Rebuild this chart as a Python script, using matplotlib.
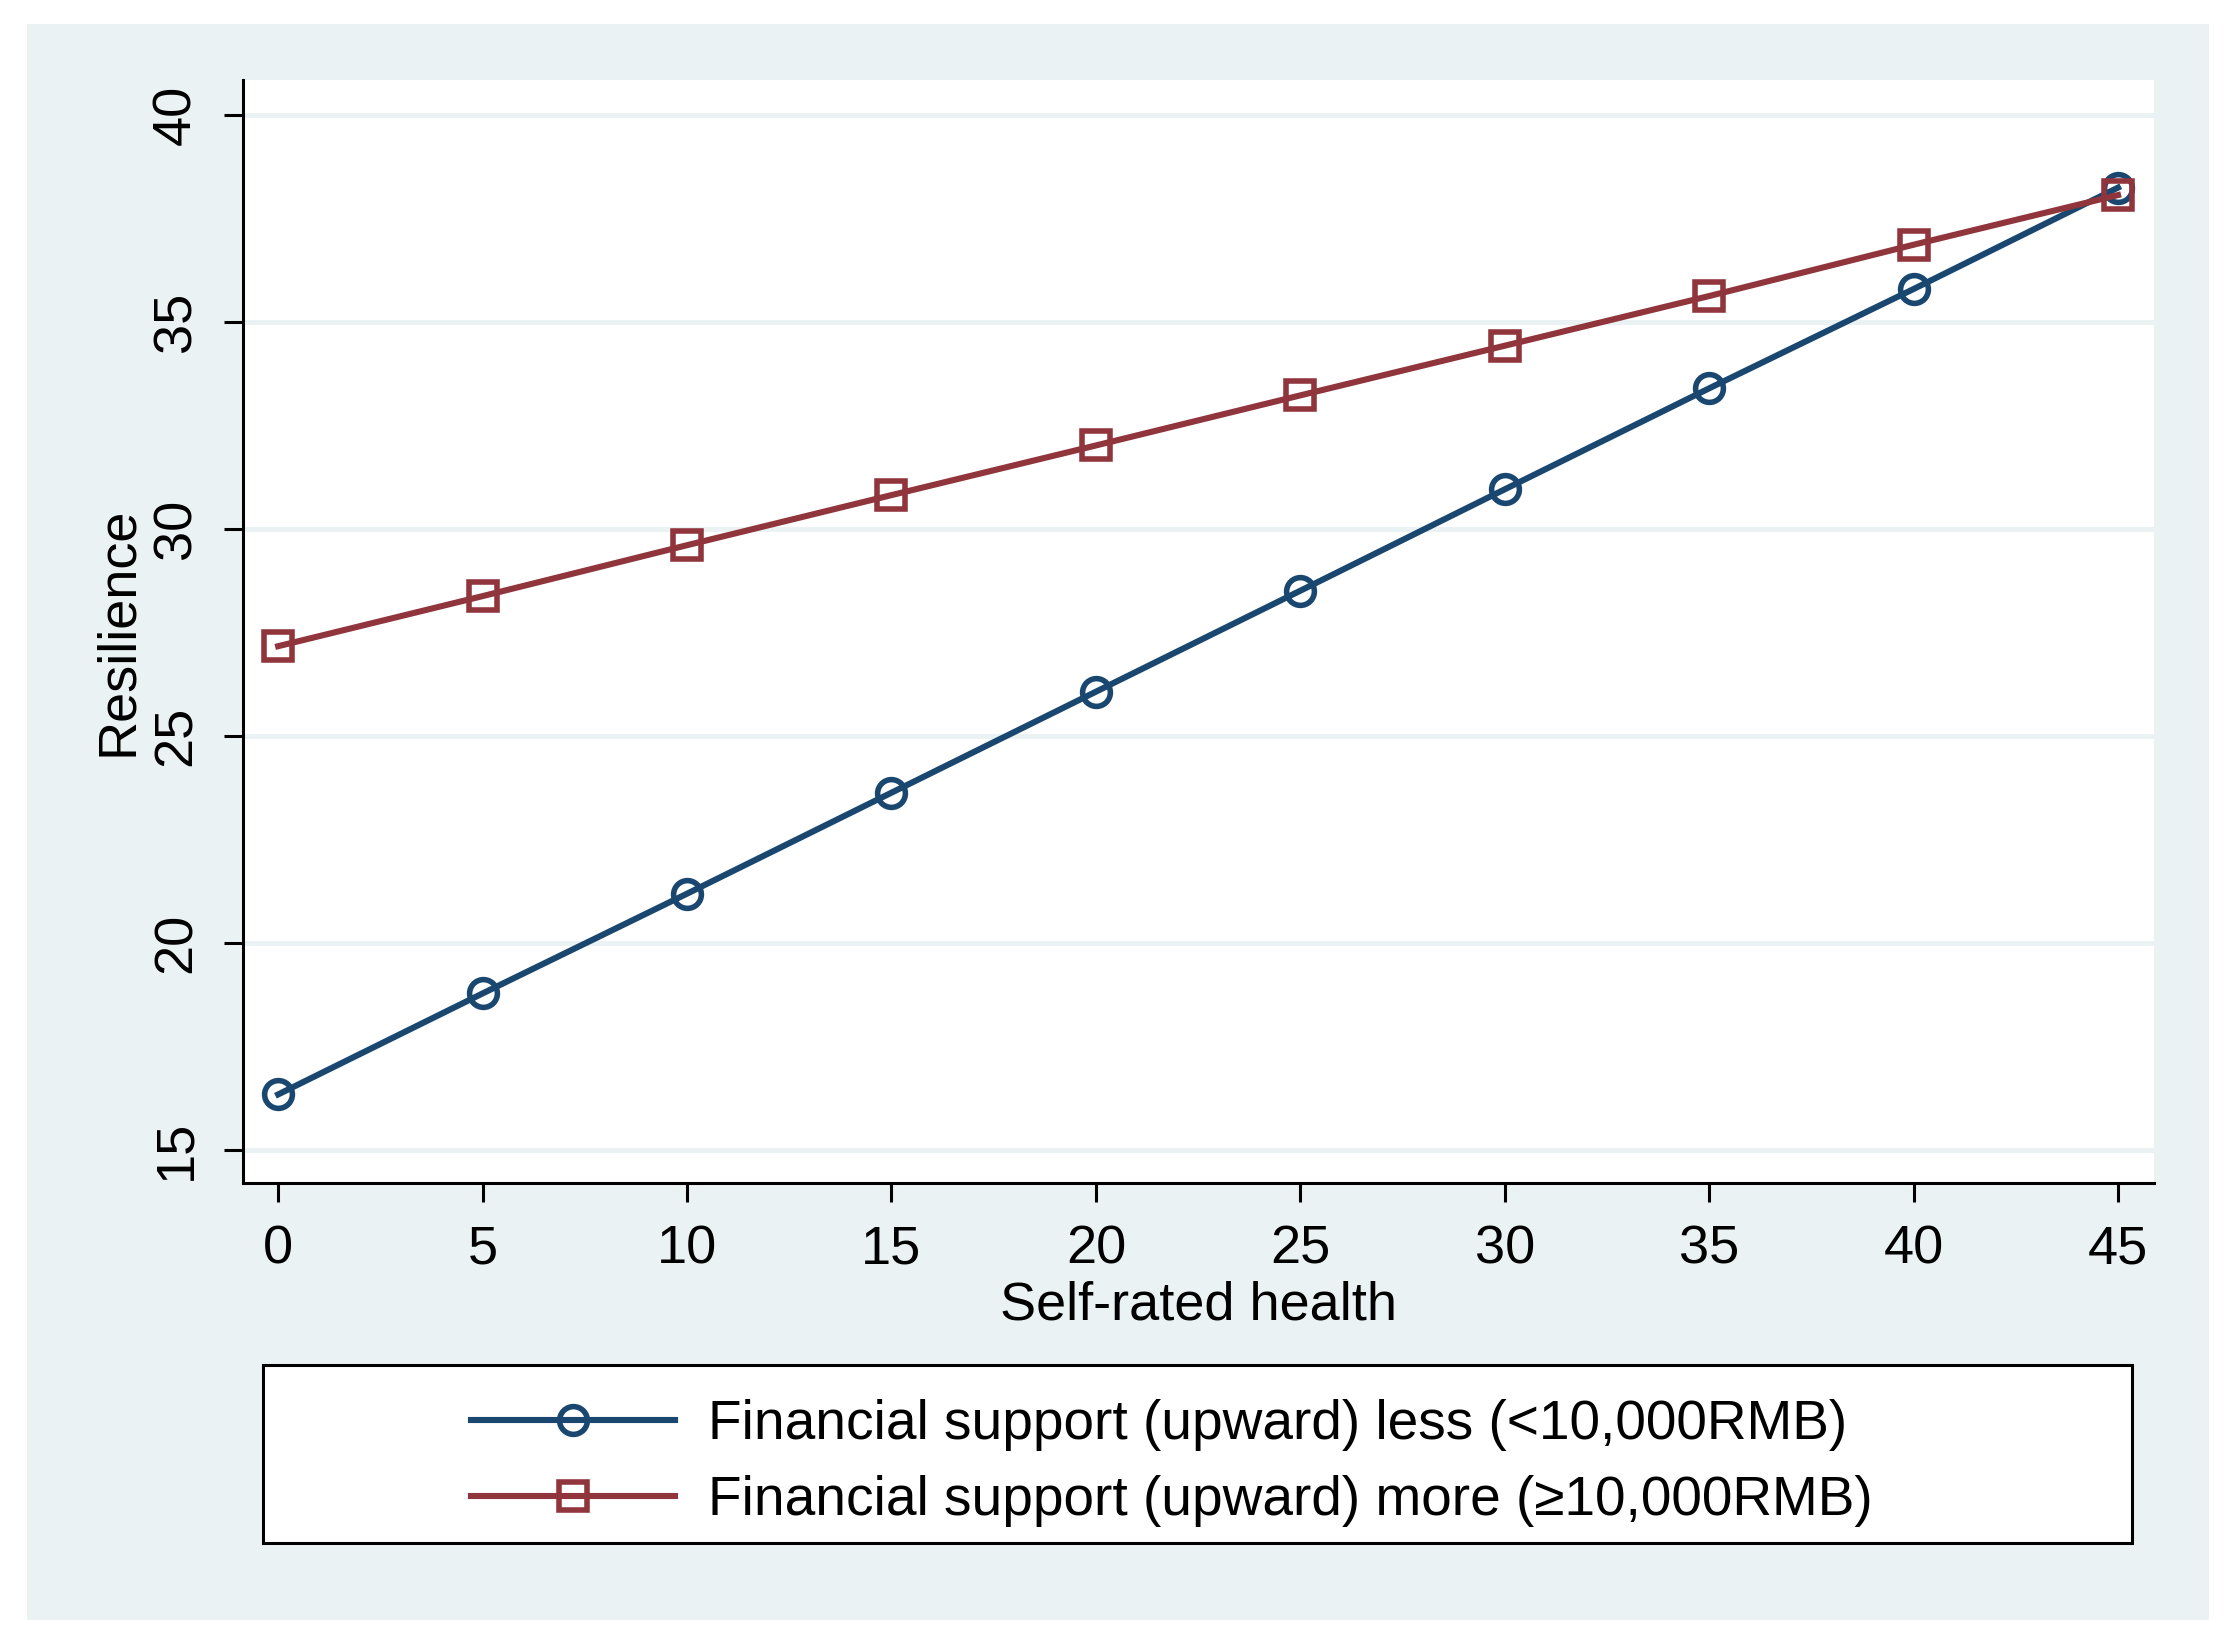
import matplotlib.pyplot as plt
from matplotlib.patches import Rectangle

plt.rcParams['font.family'] = ['Liberation Sans', 'DejaVu Sans']

# data
health = [0, 5, 10, 15, 20, 25, 30, 35, 40, 45]
less_support = [16.34, 18.78, 21.19, 23.63, 26.07, 28.51, 30.96, 33.40, 35.80, 38.25]
more_support = [27.17, 28.38, 29.61, 30.82, 32.02, 33.23, 34.43, 35.63, 36.87, 38.07]
label_less = "Financial support (upward) less (<10,000RMB)"
label_more = "Financial support (upward) more (\u226510,000RMB)"
yticks = [15, 20, 25, 30, 35, 40]

navy = '#1a476f'
maroon = '#90353b'
bg = '#eaf2f3'

W, H = 2230, 1647
fig = plt.figure(figsize=(W / 200, H / 200), dpi=200)
fig.patch.set_facecolor('white')
# stata-like outer graph region
fig.patches.append(Rectangle((27 / W, 1 - 1620 / H), (2209 - 27) / W, (1620 - 24) / H,
                             transform=fig.transFigure, facecolor=bg, edgecolor='none', zorder=-10))

ax = fig.add_axes([243 / W, 1 - 1183 / H, (2154 - 243) / W, (1183 - 80) / H])
ax.set_facecolor('white')

ax.plot(health, less_support, color=navy, lw=2.2, marker='o', ms=10, mfc='none',
        mec=navy, mew=2.0, label=label_less, zorder=3)
ax.plot(health, more_support, color=maroon, lw=2.2, marker='s', ms=10, mfc='none',
        mec=maroon, mew=2.0, label=label_more, zorder=4)

ax.set_xlim(-0.86, 45.88)
ax.set_ylim(14.2, 40.85)
ax.set_xticks(health)
ax.set_yticks(yticks)
ax.yaxis.grid(True, color=bg, lw=1.8)
ax.set_axisbelow(True)

for s in ['top', 'right']:
    ax.spines[s].set_visible(False)
for s in ['left', 'bottom']:
    ax.spines[s].set_linewidth(1.1)

ax.tick_params(axis='both', direction='out', length=7, width=1.1, pad=8, labelsize=19.5)
ax.tick_params(axis='y', labelrotation=90)
for t in ax.get_yticklabels():
    t.set_va('center')

ax.set_xlabel("Self-rated health", fontsize=19.5, labelpad=2)
ax.set_ylabel("Resilience", fontsize=19.5, labelpad=3)

# legend box below the plot
lx0, lx1, ly0, ly1 = 263, 2132, 1365, 1543
fig.patches.append(Rectangle((lx0 / W, 1 - ly1 / H), (lx1 - lx0) / W, (ly1 - ly0) / H,
                             transform=fig.transFigure, facecolor='white', edgecolor='black',
                             lw=1.1, zorder=1))
fig.legend(loc='center', bbox_to_anchor=(1172 / W, 1 - 1463 / H), frameon=False,
           fontsize=19.8, handlelength=3.7, handletextpad=0.6, labelspacing=0.44)

fig.savefig('out.png', dpi=200, facecolor='white')
